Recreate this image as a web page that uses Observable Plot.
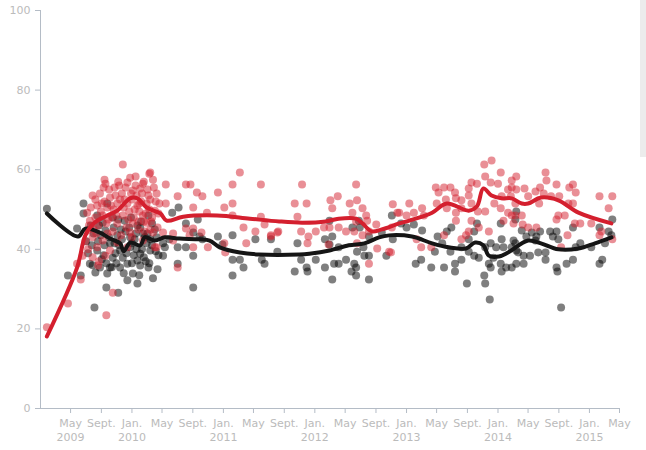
<!DOCTYPE html>
<html><head><meta charset="utf-8">
<script src="https://cdn.jsdelivr.net/npm/d3@7"></script>
<script src="https://cdn.jsdelivr.net/npm/@observablehq/plot@0.6"></script>
<style>
html,body{margin:0;padding:0;background:#fff;}
#chart{position:absolute;left:0;top:0;}
#sb{position:absolute;left:640px;top:0;width:6px;height:157px;background:#ececec;}
</style></head>
<body><div id="chart"></div><div id="sb"></div>
<script>
// x values are decimal years, y values are percentages
const redPoints = [
[2009.90,61.3],[2010.04,58.3],[2010.19,59.0],[2009.71,56.5],[2009.95,56.8],[2009.98,58.0],[2010.12,56.5],
[2009.57,53.5],[2009.65,54.0],[2009.76,53.0],[2009.89,54.0],[2010.01,54.8],[2010.09,55.3],[2010.18,53.5],[2010.27,54.0],
[2009.62,51.0],[2009.73,50.5],[2009.84,51.5],[2009.95,51.5],[2010.06,51.0],[2010.16,51.5],[2010.25,49.7],
[2009.51,49.2],[2009.68,48.5],[2009.78,48.0],[2009.90,48.5],[2010.12,48.5],[2010.22,48.0],
[2009.54,47.2],[2009.63,46.0],[2009.84,46.5],[2010.01,46.5],[2010.16,46.7],[2010.28,45.5],
[2009.52,44.7],[2009.73,44.0],[2009.98,44.2],[2010.23,44.2],[2009.57,43.0],[2009.68,42.2],[2009.84,41.7],[2010.12,42.2],
[2010.25,40.5],[2009.62,40.5],[2009.76,39.7],[2009.95,40.5],[2009.57,38.0],[2009.71,38.4],[2009.46,38.4],[2009.40,36.4],
[2009.44,32.4],[2009.30,26.4],[2009.07,20.4],[2009.72,23.4],[2009.79,29.1],[2009.63,35.9],
[2009.55,50.5],[2009.60,52.5],[2009.66,49.5],[2009.70,52.0],[2009.75,55.0],[2009.80,50.0],[2009.82,53.5],[2009.86,56.0],
[2009.92,52.5],[2009.97,49.5],[2010.00,52.5],[2010.03,50.0],[2010.05,53.5],[2010.08,49.5],[2010.10,52.0],[2010.13,57.0],
[2010.15,49.0],[2010.20,52.5],[2010.24,55.5],[2010.30,51.5],[2009.58,45.0],[2009.72,46.5],[2009.94,45.5],[2010.07,47.0],
[2010.20,45.0],[2009.49,42.0],[2009.52,40.0],[2009.64,37.0],[2009.88,43.5],[2010.14,44.5],
[2009.53,46.0],[2009.60,48.0],[2009.67,51.5],[2009.69,55.5],[2009.74,47.5],[2009.77,51.0],[2009.81,55.5],[2009.83,48.5],
[2009.87,52.5],[2009.91,50.5],[2009.93,55.5],[2009.96,47.5],[2009.99,54.0],[2010.02,48.0],[2010.04,56.0],[2010.07,45.0],
[2010.08,51.5],[2010.11,54.0],[2010.13,47.0],[2010.17,55.0],[2010.19,50.0],[2010.21,47.0],[2010.26,52.0],[2010.29,49.0],
[2009.61,44.0],[2009.79,44.5],[2009.85,57.0],[2010.00,43.0],[2010.23,57.5],[2009.70,57.5],
[2010.20,59.3],[2010.37,56.3],[2010.59,56.3],[2010.64,56.3],[2010.71,54.3],[2010.77,53.3],[2010.50,53.3],[2010.37,51.5],
[2010.67,50.5],[2010.94,54.3],[2010.82,49.2],[2011.01,50.5],[2011.10,56.3],[2011.18,59.3],[2011.10,51.5],[2011.10,48.5],
[2011.41,56.3],[2011.45,46.2],[2011.41,48.2],[2011.22,45.5],[2011.35,44.5],[2011.59,44.2],[2011.52,43.2],[2010.67,45.2],
[2010.76,44.2],[2010.63,43.5],[2010.45,44.0],[2010.34,44.2],[2010.83,40.5],[2010.67,40.5],[2011.01,41.5],[2011.02,39.2],
[2011.25,41.5],[2010.50,35.4],[2010.27,40.5],[2010.45,42.2],[2010.59,45.2],
[2011.86,56.3],[2011.78,51.5],[2011.91,51.5],[2011.81,48.2],[2011.60,44.5],[2011.52,43.5],[2011.85,44.5],[2011.93,43.2],
[2012.01,44.5],[2012.10,45.5],[2012.17,52.3],[2012.19,50.3],[2012.25,53.3],[2012.16,45.5],[2012.26,45.5],[2012.34,44.5],
[2012.38,51.5],[2012.45,56.3],[2012.46,52.3],[2012.41,49.2],[2012.52,50.3],[2012.45,47.0],[2012.57,47.2],[2012.43,44.5],
[2012.52,43.5],[2012.59,44.5],[2012.67,46.2],[2012.68,40.2],[2012.59,36.4],[2012.83,39.2],[2012.85,51.3],[2012.90,49.2],
[2012.84,45.5],[2012.15,41.2],[2011.92,41.5],[2012.46,41.5],[2012.56,48.5],
[2012.92,49.2],[2013.03,51.5],[2013.00,48.5],[2013.08,49.2],[2013.17,50.3],[2013.19,48.5],[2013.32,55.5],[2013.41,55.5],
[2013.48,55.5],[2013.35,54.3],[2013.43,52.5],[2013.53,54.3],[2013.33,51.5],[2013.44,50.3],[2013.54,49.2],[2013.54,47.2],
[2013.60,50.3],[2013.68,53.5],[2013.71,56.8],[2013.77,56.5],[2013.85,61.3],[2013.93,62.3],[2013.86,58.3],[2013.92,56.8],
[2014.00,56.5],[2014.03,59.3],[2014.15,57.3],[2014.15,55.5],[2014.20,58.3],[2014.04,53.3],[2014.14,53.3],[2013.96,51.5],
[2014.03,50.3],[2014.11,49.2],[2014.19,48.5],[2013.71,51.5],[2013.78,49.5],[2013.71,47.2],[2013.79,45.5],[2013.86,49.5],
[2013.90,44.5],[2013.68,44.5],[2013.65,43.5],[2013.60,42.5],[2013.41,43.5],[2013.11,42.5],[2013.16,40.5],[2013.27,40.5],
[2012.81,39.4],[2013.54,52.8],[2013.60,52.3],[2013.68,55.3],[2014.19,51.5],[2014.06,47.2],[2014.17,46.5],
[2014.11,55.0],[2014.20,55.0],[2014.29,55.3],[2014.33,53.3],[2014.41,54.5],[2014.46,55.5],[2014.52,59.3],[2014.53,57.3],
[2014.50,54.0],[2014.58,53.3],[2014.64,56.3],[2014.67,53.3],[2014.78,55.5],[2014.82,56.3],[2014.85,54.3],[2014.77,51.5],
[2014.82,51.5],[2014.66,48.5],[2014.64,47.5],[2014.73,48.5],[2014.26,48.5],[2014.27,46.2],[2014.33,45.5],[2014.42,45.5],
[2014.15,48.5],[2014.45,51.5],[2014.84,46.5],[2014.90,46.5],[2015.02,46.5],[2015.11,53.3],[2015.25,53.3],[2015.21,50.3],
[2015.13,44.5],[2015.11,43.5],[2015.25,42.5],[2014.76,43.5],[2014.69,40.5]
];
const blackPoints = [
[2009.07,50.2],[2009.30,33.4],[2009.44,33.4],[2009.40,45.2],[2009.47,51.5],[2009.47,49.0],[2009.59,25.4],[2009.72,30.4],
[2009.85,29.1],[2009.54,36.4],[2009.60,34.2],[2009.65,35.4],[2009.73,33.9],[2009.76,35.4],[2009.87,35.4],[2009.95,36.4],
[2010.01,33.9],[2010.06,31.4],[2009.95,32.2],[2010.09,35.9],[2010.18,35.4],[2010.23,32.7],[2009.62,39.7],[2009.76,41.5],
[2009.87,39.7],[2009.98,40.5],[2010.09,38.9],[2010.20,39.7],[2009.79,37.9],[2009.90,37.9],[2010.06,37.2],[2009.58,44.0],
[2009.71,44.7],[2009.84,43.5],[2009.98,43.0],[2010.12,44.0],[2010.27,43.0],[2009.68,46.7],[2009.79,48.0],[2009.92,47.2],
[2010.06,46.0],[2010.22,46.5],[2009.73,51.5],[2009.62,48.5],[2010.16,41.5],[2010.09,45.5],
[2009.50,42.0],[2009.56,41.0],[2009.66,43.5],[2009.70,41.0],[2009.80,45.5],[2009.86,41.0],[2009.93,44.5],[2010.00,41.5],
[2010.04,44.0],[2010.11,40.0],[2010.14,43.0],[2010.20,42.5],[2010.25,45.0],[2010.29,38.5],[2009.82,39.0],[2009.67,37.5],
[2010.02,38.5],[2009.88,45.0],[2010.15,37.0],[2009.55,46.0],
[2009.52,39.0],[2009.57,36.0],[2009.63,42.0],[2009.69,38.5],[2009.72,36.5],[2009.75,43.0],[2009.78,35.5],[2009.81,41.5],
[2009.83,36.5],[2009.89,42.5],[2009.91,34.0],[2009.94,39.0],[2009.97,45.5],[2010.00,36.5],[2010.03,42.5],[2010.05,40.0],
[2010.08,33.5],[2010.10,47.0],[2010.13,38.0],[2010.17,44.0],[2010.19,36.5],[2010.22,41.0],[2010.26,39.5],[2010.28,35.0],
[2009.64,46.0],[2009.85,47.5],[2010.18,48.5],[2009.99,48.0],
[2010.67,30.4],[2010.50,36.4],[2010.34,38.4],[2010.50,40.5],[2010.59,40.5],[2010.67,38.4],[2010.67,44.2],[2010.59,46.5],
[2010.72,47.5],[2010.51,50.5],[2010.44,49.2],[2010.74,43.2],[2010.77,42.5],[2010.94,43.2],[2011.10,43.5],[2011.10,37.4],
[2011.10,33.4],[2011.18,37.4],[2011.22,35.4],[2011.35,42.5],[2011.42,37.4],[2011.45,36.4],[2011.52,42.5],[2011.59,39.4],
[2010.99,41.2],[2010.36,40.5],[2010.41,42.5],[2010.34,41.5],
[2011.81,41.5],[2011.85,37.4],[2011.78,34.4],[2011.91,35.4],[2011.92,34.4],[2012.01,37.4],[2012.11,35.4],[2012.11,42.5],
[2012.19,43.2],[2012.16,41.2],[2012.26,40.5],[2012.19,32.4],[2012.21,36.4],[2012.26,36.4],[2012.34,37.4],[2012.40,34.4],
[2012.43,36.4],[2012.45,35.4],[2012.45,33.4],[2012.46,39.4],[2012.53,40.5],[2012.59,38.4],[2012.54,38.4],[2012.59,32.4],
[2012.41,45.5],[2012.48,47.2],[2012.49,45.5],[2012.59,43.2],[2012.78,38.4],[2012.85,42.5],[2012.73,44.2],[2012.16,47.2],
[2012.84,48.5],[2012.94,46.5],[2013.00,45.5],[2013.08,46.2],[2013.17,44.7],[2013.10,36.4],[2013.16,37.4],[2013.27,35.4],
[2013.31,39.4],[2013.41,35.4],[2013.39,41.5],[2013.44,44.5],[2013.49,45.5],[2013.48,39.4],[2013.53,36.4],[2013.53,34.4],
[2013.60,37.4],[2013.66,31.4],[2013.68,39.4],[2013.68,42.5],[2013.74,44.5],[2013.77,46.5],[2013.74,38.4],[2013.79,37.9],
[2013.85,33.4],[2013.86,31.4],[2013.91,27.4],[2013.90,36.4],[2013.92,35.4],[2013.86,40.5],[2013.92,41.5],[2013.98,40.5],
[2014.03,36.4],[2014.04,34.4],[2014.09,35.4],[2014.15,35.4],[2014.03,46.5],[2014.04,42.5],[2014.06,40.5],[2014.19,41.5],
[2014.20,39.7],[2013.95,37.9],[2013.34,43.2],[2013.60,40.5],
[2014.17,42.2],[2014.20,49.5],[2014.19,47.5],[2014.15,40.5],[2014.22,39.2],[2014.20,36.4],[2014.28,38.4],[2014.28,36.4],
[2014.26,44.7],[2014.31,43.2],[2014.35,38.4],[2014.37,44.2],[2014.42,43.2],[2014.46,44.5],[2014.44,39.2],[2014.52,39.2],
[2014.52,37.4],[2014.57,44.5],[2014.60,43.2],[2014.64,44.5],[2014.66,42.5],[2014.64,35.4],[2014.65,34.4],[2014.69,25.4],
[2014.75,36.4],[2014.82,37.4],[2014.82,45.5],[2014.90,41.5],[2014.85,40.5],[2015.02,40.5],[2015.11,45.5],[2015.14,37.4],
[2015.11,36.4],[2015.17,41.5],[2015.21,44.5],[2015.25,47.5],[2015.24,43.5],[2014.41,42.2]
];
const blackTrend = [
[2009.07,49.0],[2009.41,43.2],[2009.49,45.2],[2009.65,44.2],[2009.76,42.7],[2009.87,41.5],[2009.91,39.5],[2009.98,41.7],
[2010.09,41.0],[2010.14,43.0],[2010.25,42.2],[2010.36,43.0],[2010.52,42.7],[2010.74,42.5],[2010.85,42.2],[2010.96,40.5],
[2011.18,39.2],[2011.39,38.7],[2011.83,38.7],[2011.94,38.9],[2012.16,39.7],[2012.37,41.0],[2012.54,41.5],[2012.70,43.0],
[2012.81,43.5],[2013.06,43.2],[2013.28,41.5],[2013.46,40.5],[2013.65,40.2],[2013.75,41.7],[2013.84,41.0],[2013.90,38.4],
[2014.01,38.2],[2014.11,39.2],[2014.33,42.2],[2014.47,41.5],[2014.66,40.0],[2014.88,40.2],[2015.06,41.5],[2015.24,43.0]
];
const redTrend = [
[2009.07,18.1],[2009.40,35.4],[2009.49,43.5],[2009.58,46.5],[2009.73,48.5],[2009.84,49.7],[2009.98,52.8],[2010.06,52.8],
[2010.16,50.5],[2010.31,49.0],[2010.38,47.2],[2010.56,48.2],[2010.93,48.5],[2011.29,47.7],[2011.61,47.0],[2011.86,46.7],
[2012.12,47.0],[2012.26,47.7],[2012.45,47.7],[2012.52,46.5],[2012.62,44.5],[2012.73,45.0],[2012.92,46.5],[2013.03,47.2],
[2013.28,49.2],[2013.44,51.5],[2013.68,49.7],[2013.77,50.8],[2013.84,55.3],[2013.93,53.5],[2014.04,52.8],[2014.15,52.8],
[2014.26,51.5],[2014.33,51.5],[2014.47,53.0],[2014.66,52.3],[2014.88,49.2],[2015.24,46.5]
];
const yTicks = [0, 20, 40, 60, 80, 100];
const monthNames = {0: "Jan.", 4: "May", 8: "Sept."};
const xDomain = [new Date(Date.UTC(2009,0,1)), new Date(Date.UTC(2015,4,1))];
const xTicks = d3.utcMonth.every(4).range(new Date(Date.UTC(2009,4,1)), new Date(Date.UTC(2015,5,1)));

function yearToDate(y) {
  const yr = Math.floor(y);
  const s = Date.UTC(yr,0,1), e = Date.UTC(yr+1,0,1);
  return new Date(s + (y - yr) * (e - s));
}
function fmt(d, i) {
  const m = monthNames[d.getUTCMonth()];
  return (d.getUTCMonth() === 0 || i === 0) ? m + "\n" + d.getUTCFullYear() : m;
}
const RED = "#d41f2e";
const AX = "#b4bcc6";
const chart = Plot.plot({
  width: 646, height: 450,
  marginLeft: 40, marginRight: 27, marginTop: 10, marginBottom: 42,
  style: {fontFamily: "'DejaVu Sans', Verdana, sans-serif", fontSize: "11px", color: "#bbb", background: "#fff"},
  x: {type: "utc", domain: xDomain},
  y: {domain: [0, 100]},
  marks: [
    Plot.ruleX([xDomain[0]], {stroke: AX}),
    Plot.ruleY([0], {stroke: AX}),
    Plot.axisY(yTicks, {tickSize: 5, tickPadding: 5, stroke: AX, fill: "#bbb", label: null}),
    Plot.axisX(xTicks, {tickSize: 5, tickPadding: 4, stroke: AX, fill: "#bbb", label: null, tickFormat: fmt, lineHeight: 1.25}),
    Plot.dot(blackPoints, {x: d => yearToDate(d[0]), y: d => d[1], r: 4, fill: "#000", fillOpacity: 0.5, stroke: null}),
    Plot.dot(redPoints, {x: d => yearToDate(d[0]), y: d => d[1], r: 4, fill: RED, fillOpacity: 0.5, stroke: null}),
    Plot.line(blackTrend, {x: d => yearToDate(d[0]), y: d => d[1], stroke: "#151515", strokeWidth: 4, curve: "catmull-rom"}),
    Plot.line(redTrend, {x: d => yearToDate(d[0]), y: d => d[1], stroke: RED, strokeWidth: 4, curve: "catmull-rom"})
  ]
});
document.getElementById("chart").appendChild(chart);
</script>
</body></html>
